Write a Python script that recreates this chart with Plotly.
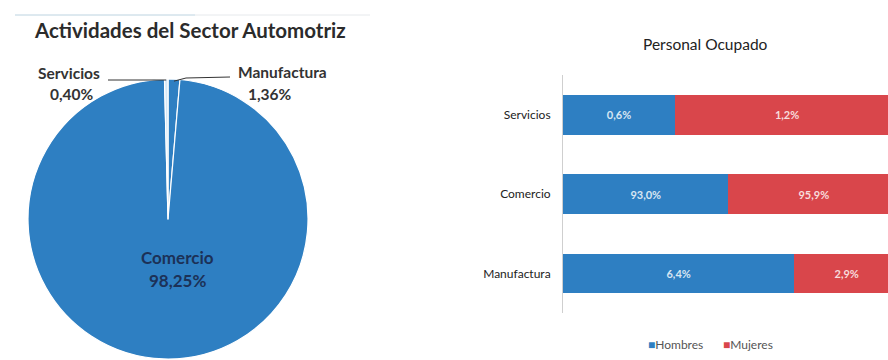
import math
import plotly.graph_objects as go

# Activity shares of the automotive sector (%)
pie_labels = ["Manufactura", "Comercio", "Servicios"]
pie_values = [1.36, 98.25, 0.40]
pie_colors = ["#2e7fc2", "#2e7fc2", "#d4e7f6"]

# Employed personnel by sex (%)
bar_categories = ["Servicios", "Comercio", "Manufactura"]
series_names = ["Hombres", "Mujeres"]
hombres = [0.6, 93.0, 6.4]
mujeres = [1.2, 95.9, 2.9]

BLUE = "#2e7fc2"
RED = "#d9464b"
W, H = 888, 360

FONT = "Lato, Open Sans, sans-serif"


def pct(v, nd):
    return f"{v:.{nd}f}".replace(".", ",") + "%"


# pie placement in pixels
pcx, pcy, pr = 168, 219, 140
pie_dom_x = [max(0.0, (pcx - pr) / W), min(1.0, (pcx + pr) / W)]
pie_dom_y = [max(0.0, (H - pcy - pr) / H), min(1.0, (H - pcy + pr) / H)]

fig = go.Figure()

fig.add_trace(go.Pie(
    labels=pie_labels,
    values=pie_values,
    sort=False,
    direction="clockwise",
    rotation=0,
    textinfo="none",
    hoverinfo="label+percent",
    marker=dict(colors=pie_colors, line=dict(color="white", width=1.2)),
    domain=dict(x=pie_dom_x, y=pie_dom_y),
    showlegend=False,
))

for name, vals, col in zip(series_names, [hombres, mujeres], [BLUE, RED]):
    fig.add_trace(go.Bar(
        name=name, y=bar_categories, x=vals, orientation="h",
        marker=dict(color=col, line=dict(width=0)),
        text=[pct(v, 1) for v in vals], textposition="inside",
        insidetextanchor="middle",
        textfont=dict(family=FONT, size=11, weight="bold",
                      color="rgba(255,255,255,0.82)"),
        width=0.5, xaxis="x", yaxis="y", showlegend=False,
    ))


def edge_point(idx):
    """Pixel point on the pie rim at the middle of slice idx."""
    total = sum(pie_values)
    start = sum(pie_values[:idx]) / total * 360.0
    mid = start + pie_values[idx] / total * 180.0
    a = math.radians(mid)
    return pcx + pr * math.sin(a), pcy - pr * math.cos(a)


def px(x):
    return x / W


def py(y):
    return 1 - y / H


shapes = []
# decorative rule above the pie title
shapes.append(dict(type="line", xref="paper", yref="paper",
                   x0=px(15), x1=px(195), y0=py(15), y1=py(15),
                   line=dict(color="#bcd3e0", width=1)))
shapes.append(dict(type="line", xref="paper", yref="paper",
                   x0=px(195), x1=px(370), y0=py(15), y1=py(15),
                   line=dict(color="#e6e9ec", width=1)))

# leader lines
sx, sy = edge_point(2)
shapes.append(dict(type="path", xref="paper", yref="paper",
                   path=f"M {px(108)} {py(80)} L {px(sx)} {py(sy + 1)}",
                   line=dict(color="#333333", width=1)))
mx, my = edge_point(0)
shapes.append(dict(type="path", xref="paper", yref="paper",
                   path=f"M {px(mx)} {py(my + 2)} L {px(186)} {py(78)} L {px(230)} {py(77)}",
                   line=dict(color="#333333", width=1)))

label_font = dict(family=FONT, size=15.5, weight="bold", color="#333333")
center_font = dict(family=FONT, size=17, weight="bold", color="#1c3157")
legend_font = dict(family=FONT, size=12, color="#555555")

annotations = [
    dict(text="Actividades del Sector Automotriz", x=px(190), y=py(30),
         font=dict(family=FONT, size=20.5, weight="bold", color="#2b2b2b")),
    dict(text=pie_labels[2], x=px(69), y=py(73), font=label_font),
    dict(text=pct(pie_values[2], 2), x=px(72), y=py(94), font=label_font),
    dict(text=pie_labels[0], x=px(282), y=py(72), font=label_font),
    dict(text=pct(pie_values[0], 2), x=px(270), y=py(94), font=label_font),
    dict(text=pie_labels[1], x=px(177), y=py(257), font=center_font),
    dict(text=pct(pie_values[1], 2), x=px(177), y=py(280), font=center_font),
    dict(text="Personal Ocupado", x=px(705), y=py(44),
         font=dict(family=FONT, size=15.5, color="#222222")),
]
# compact legend for the bar chart
for name, col, lx in zip(series_names, [BLUE, RED], [646, 721]):
    annotations.append(dict(
        text=f"<span style='color:{col}'>■</span>{name}",
        x=px(lx), y=py(344), xanchor="left", font=legend_font))

for a in annotations:
    a.setdefault("xanchor", "center")
    a.update(xref="paper", yref="paper", showarrow=False, yanchor="middle")

fig.update_layout(
    width=W, height=H,
    margin=dict(l=0, r=0, t=0, b=0),
    paper_bgcolor="white", plot_bgcolor="white",
    barmode="stack", barnorm="percent", bargap=0.5,
    showlegend=False,
    xaxis=dict(domain=[563 / W, 1.0], range=[0, 96.7], visible=False,
               fixedrange=True),
    yaxis=dict(domain=[py(313), py(75)], anchor="x",
               categoryorder="array", categoryarray=bar_categories[::-1],
               showline=True, linecolor="#cfcfcf", linewidth=1,
               showgrid=False, zeroline=False, ticks="",
               ticklabelstandoff=9,
               tickfont=dict(family=FONT, size=12, color="#222222")),
    shapes=shapes,
    annotations=annotations,
)

fig.write_html("out.html")
